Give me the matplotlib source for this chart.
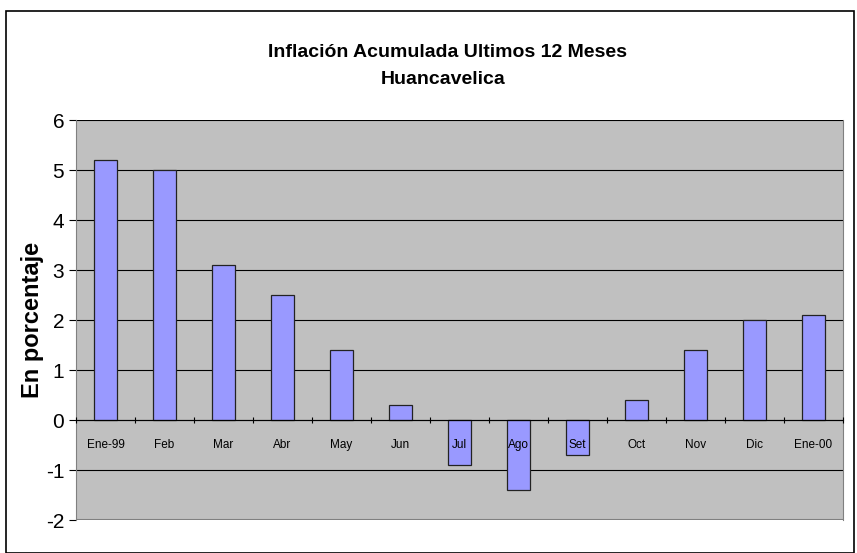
import matplotlib
matplotlib.use("Agg")
import matplotlib.pyplot as plt
from matplotlib.patches import Rectangle
import numpy as np

# datos
meses = ["Ene-99", "Feb", "Mar", "Abr", "May", "Jun", "Jul", "Ago", "Set",
         "Oct", "Nov", "Dic", "Ene-00"]
inflacion = [5.2, 5.0, 3.1, 2.5, 1.4, 0.3, -0.9, -1.4, -0.7, 0.4, 1.4, 2.0, 2.1]
yticks = [-2, -1, 0, 1, 2, 3, 4, 5, 6]

plt.rcParams["font.family"] = ["Liberation Sans", "DejaVu Sans"]

fig = plt.figure(figsize=(8.57, 5.53), dpi=100)
ax = fig.add_axes([76 / 857, 1 - 520 / 553, (843 - 76) / 857, 400 / 553])
ax.set_facecolor("#C0C0C0")

x = np.arange(len(meses))
ax.bar(x, inflacion, width=0.4, color="#9999FF", edgecolor="#222222",
       linewidth=0.9, zorder=3)

ax.set_ylim(-2, 6)
ax.set_xlim(-0.5, len(meses) - 0.5)
ax.set_yticks(yticks)
ax.set_yticklabels([str(v) for v in yticks], fontsize=15)
ax.yaxis.grid(True, color="black", linewidth=0.8, zorder=1)
ax.tick_params(axis="y", length=5, width=0.8)

# eje x sobre el cero, etiquetas encima de las barras
ax.spines["bottom"].set_position(("data", 0))
ax.spines["bottom"].set_zorder(4)
ax.spines["top"].set_visible(False)
ax.spines["right"].set_color("#808080")
ax.spines["left"].set_color("#808080")
ax.xaxis.set_zorder(5)
ax.set_xticks(x)
ax.set_xticklabels(meses, fontsize=8.5)
ax.tick_params(axis="x", which="major", length=0, pad=14)
ax.set_xticks(np.arange(-0.5, len(meses), 1), minor=True)
ax.tick_params(axis="x", which="minor", length=4, width=0.8, direction="inout")

# borde inferior del area
ax.axhline(-2, color="#808080", linewidth=1.5, zorder=2)

ax.set_ylabel("En porcentaje", fontsize=17, fontweight="bold", labelpad=1)

fig.text(448 / 857, 1 - 57 / 553, "Inflación Acumulada Ultimos 12 Meses",
         ha="center", va="baseline", fontsize=14, fontweight="bold")
fig.text(443 / 857, 1 - 84 / 553, "Huancavelica", ha="center",
         va="baseline", fontsize=14, fontweight="bold")

# marco exterior
fig.patches.append(Rectangle((6 / 857, 0), 848 / 857, 1 - 11 / 553,
                             transform=fig.transFigure, fill=False,
                             edgecolor="black", linewidth=1.2))

fig.savefig("out.png", dpi=100)
